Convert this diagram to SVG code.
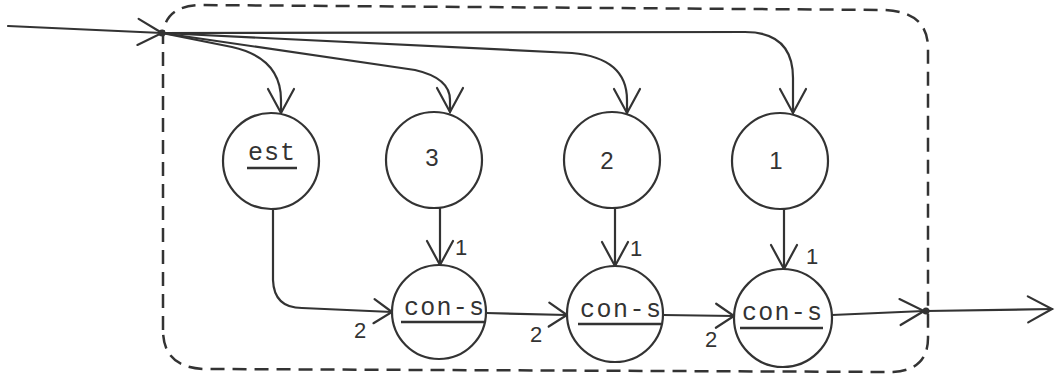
<svg xmlns="http://www.w3.org/2000/svg" width="1055" height="381" viewBox="0 0 1055 381">
<defs>
<style>
.ln{fill:none;stroke:#333;stroke-width:2.2;stroke-linecap:round;stroke-linejoin:round}
.nd{fill:#fff;stroke:#333;stroke-width:2.2}
.box{fill:none;stroke:#333;stroke-width:2.5;stroke-dasharray:14 8}
.mono{font-family:"Liberation Mono","DejaVu Sans Mono",monospace;font-size:25px;fill:#333}
.dig{font-family:"Liberation Sans",Arial,sans-serif;font-size:24px;fill:#333}
.lab{font-family:"Liberation Sans",Arial,sans-serif;font-size:22px;fill:#333}
.ul{stroke:#333;stroke-width:2.4}
</style>
<marker id="big" markerUnits="userSpaceOnUse" markerWidth="40" markerHeight="40" viewBox="-30 -20 40 40" refX="0" refY="0" orient="auto">
<path d="M-24,-13 L0,0 L-24,13" fill="none" stroke="#333" stroke-width="2.2" stroke-linecap="round"/>
</marker>
<marker id="sm" markerUnits="userSpaceOnUse" markerWidth="40" markerHeight="40" viewBox="-30 -20 40 40" refX="0" refY="0" orient="auto">
<path d="M-18,-12 L0,0 L-18,12" fill="none" stroke="#333" stroke-width="2.2" stroke-linecap="round"/>
</marker>
</defs>
<rect width="1055" height="381" fill="#fff"/>
<path class="box" d="M163,330 L163,38 Q163,6 200,5 L885,10 Q928,12 928,48 L928,338 Q928,370 893,372 L205,369 Q163,368 163,330 Z"/>
<g id="connectors">
<path class="ln" d="M8,26 L162,33" marker-end="url(#big)"/>
<path class="ln" d="M162,33 L745,32 Q793,32 793,78 L793,113" marker-end="url(#big)"/>
<path class="ln" d="M162,33 L572,53 Q627,58 627,100 L627,113" marker-end="url(#big)"/>
<path class="ln" d="M162,33 L415,70 Q450,78 450,100 L450,112" marker-end="url(#big)"/>
<path class="ln" d="M162,33 L232,47 Q281,58 281,100 L281,113" marker-end="url(#big)"/>
<path class="ln" d="M440,208 L440,265" marker-end="url(#big)"/>
<path class="ln" d="M615,208 L615,266" marker-end="url(#big)"/>
<path class="ln" d="M784,209 L784,269" marker-end="url(#big)"/>
<path class="ln" d="M273,209 L273,280 Q274,308 302,308 L392,312" marker-end="url(#sm)"/>
<path class="ln" d="M486,313 L567,315" marker-end="url(#sm)"/>
<path class="ln" d="M663,315 L734,316" marker-end="url(#sm)"/>
<path class="ln" d="M832,315 L924,311" marker-end="url(#big)"/>
<path class="ln" d="M926,311 L1052,309" marker-end="url(#big)"/>
<circle cx="162" cy="33" r="3.5" fill="#333"/>
<circle cx="926" cy="311" r="3.5" fill="#333"/>
<text class="lab" x="455" y="255">1</text>
<text class="lab" x="630" y="256">1</text>
<text class="lab" x="806" y="264">1</text>
<text class="lab" x="354" y="338">2</text>
<text class="lab" x="530" y="342">2</text>
<text class="lab" x="705" y="347">2</text>
</g>
<g id="est">
<circle class="nd" cx="271" cy="161" r="48"/>
<text class="mono" x="248" y="160" textLength="47" lengthAdjust="spacing">est</text>
<line class="ul" x1="247" y1="168" x2="297" y2="168"/>
</g>
<g id="n3">
<circle class="nd" cx="434" cy="160" r="48"/>
<text class="dig" x="432" y="166" text-anchor="middle">3</text>
</g>
<g id="n2">
<circle class="nd" cx="612" cy="160" r="48"/>
<text class="dig" x="607" y="169" text-anchor="middle">2</text>
</g>
<g id="n1">
<circle class="nd" cx="780" cy="161" r="48"/>
<text class="dig" x="776" y="169" text-anchor="middle">1</text>
</g>
<g id="cons1">
<circle class="nd" cx="439" cy="312" r="47"/>
<text class="mono" x="404" y="315" textLength="80" lengthAdjust="spacing">con-s</text>
<line class="ul" x1="401" y1="322" x2="485" y2="322"/>
</g>
<g id="cons2">
<circle class="nd" cx="615" cy="314" r="48"/>
<text class="mono" x="580" y="317" textLength="81" lengthAdjust="spacing">con-s</text>
<line class="ul" x1="578" y1="324" x2="661" y2="324"/>
</g>
<g id="cons3">
<circle class="nd" cx="783" cy="318" r="49"/>
<text class="mono" x="742" y="320" textLength="80" lengthAdjust="spacing">con-s</text>
<line class="ul" x1="740" y1="328" x2="823" y2="328"/>
</g>
</svg>
